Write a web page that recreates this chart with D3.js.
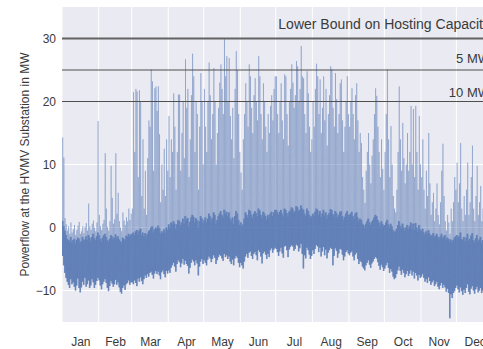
<!DOCTYPE html>
<html>
<head>
<meta charset="utf-8">
<script src="https://cdn.jsdelivr.net/npm/d3@7"></script>
<style>
  body { margin: 0; background: #ffffff; }
  svg { display: block; font-family: "Liberation Sans", Arial, sans-serif; }
</style>
</head>
<body>
<svg id="chart" width="483" height="349"></svg>
<script>
// ---- data -------------------------------------------------------------
const year = 2015;
const monthLabels = ["Jan", "Feb", "Mar", "Apr", "May", "Jun", "Jul", "Aug", "Sep", "Oct", "Nov", "Dec"];
const yTicks = [-10, 0, 10, 20, 30];
const limitValues = [30, 25, 20];
const limitLabels = ["Lower Bound on Hosting Capacity", "5 MW", "10 MW"];

// daily maximum of the substation powerflow (MW), one value per day
const peakMW = [
  // Jan
  14.3, 11.1, 1.5, 0.5, -0.5, 0.2, -1.0, 0.8, -0.8, -0.3, 0.4, -1.2, -0.4, 0.3, 0.9, -1.0, -0.6, 0.2, -0.9, 0.1, 0.7, -0.5, 3.8, 0.2, -0.4, 0.6, 1.1, 0.0, -0.6, 0.8, 16.9,
  // Feb
  2.0, 0.2, -0.4, 0.6, 1.2, 11.8, 3.0, 0.1, -0.5, 1.0, 9.8, 4.7, 0.6, 1.3, 11.8, 2.2, 5.5, 1.0, 0.0, -0.6, 2.4, 1.1, 0.4, 1.6, 1.0, 3.0, 1.2, 2.2,
  // Mar
  3.0, 21.5, 12.0, 22.0, 21.6, 8.0, 21.8, 20.0, 5.0, 14.0, 3.0, 9.0, 2.0, 11.0, 17.0, 16.0, 25.1, 23.2, 9.0, 22.1, 22.4, 18.5, 22.4, 14.8, 4.0, 10.0, 6.0, 12.5, 5.0, 14.0, 9.0,
  // Apr
  17.7, 8.0, 14.0, 12.0, 21.3, 16.0, 6.0, 12.0, 21.1, 21.1, 9.0, 15.0, 20.0, 11.0, 26.7, 19.0, 22.0, 8.0, 14.0, 21.0, 27.6, 24.0, 12.0, 20.0, 18.0, 6.0, 16.0, 24.5, 20.0, 10.0,
  // May
  22.0, 16.0, 12.0, 20.0, 26.2, 21.0, 14.0, 18.0, 25.3, 20.0, 10.0, 15.0, 19.0, 23.0, 25.9, 22.0, 18.0, 30.0, 24.0, 27.2, 20.0, 26.9, 17.7, 14.0, 19.0, 11.0, 22.0, 28.0, 25.0, 18.0, 12.0,
  // Jun
  8.7, 6.0, 14.0, 18.0, 22.9, 20.0, 16.0, 25.9, 24.0, 19.0, 15.0, 21.0, 23.7, 20.0, 17.0, 27.2, 24.0, 18.0, 14.0, 22.9, 20.0, 16.0, 12.0, 18.0, 15.0, 19.3, 21.0, 17.0, 22.0, 24.0,
  // Jul
  24.0, 18.0, 15.0, 20.0, 22.9, 17.0, 14.0, 24.3, 24.0, 18.0, 13.0, 20.0, 22.0, 25.9, 23.0, 19.0, 21.0, 26.4, 25.6, 20.0, 22.0, 28.8, 24.0, 23.7, 18.0, 15.0, 24.8, 21.3, 16.0, 12.0, 14.0,
  // Aug
  20.0, 16.0, 22.0, 26.0, 24.0, 18.0, 23.5, 15.0, 19.0, 24.0, 17.0, 22.0, 13.0, 18.0, 21.0, 25.6, 25.1, 19.0, 16.0, 24.5, 20.4, 15.0, 18.0, 22.9, 23.5, 17.0, 12.0, 16.0, 20.0, 24.0, 18.0,
  // Sep
  16.0, 20.0, 22.1, 18.0, 14.0, 21.0, 22.9, 17.0, 12.0, 15.0, 13.4, 8.0, 6.0, 3.9, 9.0, 12.0, 15.0, 10.0, 7.0, 11.4, 14.0, 18.0, 22.1, 20.9, 16.0, 12.0, 8.0, 14.0, 9.3, 6.0,
  // Oct
  12.0, 18.0, 25.1, 14.0, 8.0, 16.1, 10.0, 5.0, 3.0, 2.4, 6.0, 12.0, 22.4, 14.0, 9.0, 16.6, 11.0, 7.0, 10.0, 15.0, 9.0, 12.0, 19.3, 10.0, 18.8, 8.0, 19.3, 12.0, 6.0, 17.7, 10.0,
  // Nov
  8.0, 14.0, 6.0, 3.0, 9.0, 5.0, 15.0, 7.0, 2.0, 4.0, 5.5, 1.0, 3.0, 7.0, 2.0, 0.5, 4.0, 9.0, 13.3, 5.0, 1.0, -0.5, 2.0, 0.8, -1.0, 3.0, 1.0, 4.0, 8.0, 6.0,
  // Dec
  10.3, 4.0, 7.0, 13.4, 3.0, 1.0, 5.0, 2.0, 6.0, 10.3, 2.0, 4.0, 8.0, 13.0, 3.0, 1.0, 5.0, 9.8, 2.0, 4.0, 6.6, 1.0, 3.0, 0.0, 2.0, 1.0, 0.0, 3.0, 1.0, 0.0, 2.0
];

// typical night-time level of the powerflow (MW), one value per day
const baseMW = [
  // Jan
  1.0, 0.2, -0.5, -1.2, -1.8, -2.0, -2.2, -1.5, -2.4, -2.0, -1.8, -2.6, -2.0, -1.6, -1.8, -2.4, -2.2, -1.5, -2.1, -1.9, -1.4, -2.0, -1.2, -1.6, -2.1, -1.5, -1.0, -1.7, -2.0, -1.4, -0.8,
  // Feb
  -1.2, -1.8, -2.2, -1.6, -1.2, -1.0, -1.5, -2.0, -2.3, -1.8, -1.2, -1.4, -1.9, -1.6, -1.1, -1.7, -1.4, -1.9, -2.2, -2.4, -1.6, -1.8, -2.0, -1.3, -1.5, -1.0, -1.4, -1.1,
  // Mar
  -1.0, -0.8, -1.2, -0.6, -0.4, -1.0, -0.5, -0.2, -1.2, -0.8, -1.4, -0.9, -1.5, -1.0, -0.6, -0.4, 0.0, 0.2, -0.8, -0.3, 0.0, -0.2, 0.3, -0.1, -1.0, -0.6, -0.9, -0.3, -0.8, 0.0, -0.4,
  // Apr
  0.5, 0.0, 0.8, 0.4, 1.0, 0.6, -0.2, 0.5, 1.2, 1.0, 0.3, 0.8, 1.4, 0.6, 1.8, 1.2, 1.5, 0.2, 0.9, 1.6, 2.0, 1.7, 0.8, 1.5, 1.2, 0.0, 1.0, 1.8, 1.5, 0.7,
  // May
  1.2, 1.6, 0.8, 1.4, 2.2, 1.8, 1.0, 1.5, 2.4, 2.0, 0.6, 1.2, 1.8, 2.2, 2.6, 2.0, 1.6, 2.8, 2.2, 2.5, 1.8, 2.4, 1.4, 1.0, 1.6, 0.5, 1.8, 2.6, 2.2, 1.2, 0.4,
  // Jun
  0.8, 0.2, 0.5, 1.4, 2.4, 2.0, 1.6, 2.8, 2.6, 2.0, 1.5, 2.2, 2.6, 2.3, 1.8, 3.0, 2.7, 2.0, 1.6, 2.5, 2.2, 1.8, 1.2, 2.0, 1.6, 2.2, 2.5, 1.8, 2.4, 2.8,
  // Jul
  2.8, 2.4, 2.0, 2.5, 2.8, 2.2, 1.8, 3.0, 2.8, 2.3, 1.7, 2.5, 2.7, 3.2, 3.0, 2.4, 2.6, 3.4, 3.2, 2.6, 2.8, 3.5, 3.0, 2.8, 2.2, 1.8, 3.0, 2.6, 2.0, 1.6, 1.8,
  // Aug
  2.2, 1.8, 2.5, 3.0, 2.8, 2.0, 2.6, 1.6, 2.2, 2.8, 1.9, 2.4, 1.4, 2.0, 2.3, 2.9, 2.8, 2.1, 1.7, 2.6, 2.3, 1.6, 2.0, 2.5, 2.6, 1.8, 1.2, 1.7, 2.2, 2.6, 2.0,
  // Sep
  2.0, 2.2, 2.5, 1.8, 1.4, 2.2, 2.4, 1.6, 1.0, 1.4, 1.2, 0.6, 0.4, 0.0, 0.6, 1.0, 1.4, 0.8, 0.4, 0.9, 1.2, 1.6, 2.0, 1.8, 1.2, 0.8, 0.3, 1.0, 0.6, 0.2,
  // Oct
  0.4, 0.8, 1.2, 0.5, 0.0, 0.6, 0.2, -0.4, -0.8, -0.6, -0.2, 0.4, 1.0, 0.3, -0.2, 0.6, 0.0, -0.5, 0.0, 0.4, -0.3, 0.2, 0.8, -0.2, 0.6, -0.4, 0.7, 0.0, -0.6, 0.4, -0.3,
  // Nov
  -0.6, -0.2, -0.8, -1.2, -0.6, -1.0, -0.4, -1.0, -1.4, -1.2, -0.9, -1.6, -1.3, -1.0, -1.5, -1.8, -1.4, -1.0, -1.7, -1.4, -1.2, -2.0, -1.6, -1.8, -2.2, -1.9, -2.4, -2.0, -1.6, -1.4,
  // Dec
  -1.2, -1.6, -1.4, -0.8, -1.8, -2.0, -1.5, -2.2, -1.6, -1.0, -2.1, -1.8, -1.3, -0.9, -2.0, -2.3, -1.7, -1.2, -2.2, -1.9, -1.5, -2.4, -2.0, -2.2, -1.8, -2.0, -2.3, -1.7, -2.1, -2.4, -2.0
];

// daily minimum of the substation powerflow (MW), one value per day
const lowMW = [
  // Jan
  -4.5, -6.0, -7.2, -8.0, -8.6, -9.1, -9.6, -8.2, -9.0, -8.7, -9.4, -10.0, -9.2, -8.1, -9.6, -10.3, -9.5, -8.6, -9.1, -8.0, -9.4, -9.0, -8.4, -9.6, -9.2, -8.2, -8.7, -9.6, -9.1, -8.5, -8.0,
  // Feb
  -8.4, -9.2, -9.8, -9.0, -8.6, -8.2, -8.8, -9.6, -10.1, -9.3, -8.5, -8.9, -9.4, -9.0, -8.3, -9.1, -8.7, -9.5, -10.2, -10.5, -9.6, -9.2, -9.9, -9.0, -8.8, -8.4, -9.1, -8.7,
  // Mar
  -8.7, -9.0, -8.4, -8.8, -9.3, -8.1, -8.6, -7.9, -8.5, -9.0, -8.2, -7.6, -8.0, -7.4, -7.8, -7.2, -7.0, -7.5, -8.1, -7.3, -6.9, -7.4, -7.0, -7.6, -8.2, -7.1, -6.8, -7.4, -7.9, -6.9, -7.3,
  // Apr
  -6.8, -7.2, -6.4, -6.0, -5.6, -6.2, -7.0, -5.8, -5.2, -5.5, -6.3, -5.7, -5.0, -5.9, -5.3, -5.8, -6.1, -7.3, -6.4, -5.6, -5.1, -5.4, -6.0, -5.2, -5.7, -7.6, -6.2, -5.4, -5.0, -5.8,
  // May
  -5.2, -5.6, -6.0, -5.1, -4.6, -4.9, -5.5, -5.0, -4.4, -4.8, -5.8, -5.2, -4.7, -4.3, -4.5, -4.9, -5.3, -4.2, -4.7, -4.4, -5.0, -4.6, -5.4, -5.8, -5.1, -6.0, -4.9, -4.5, -4.8, -5.6, -6.3,
  // Jun
  -5.6, -6.0, -6.5, -5.4, -4.6, -4.2, -4.8, -4.0, -3.8, -4.5, -5.0, -4.2, -3.9, -4.4, -5.2, -3.6, -3.9, -4.6, -5.7, -4.1, -3.8, -4.3, -5.0, -4.2, -4.7, -3.6, -3.3, -4.0, -3.5, -3.2,
  // Jul
  -3.4, -3.9, -4.5, -3.8, -3.2, -4.1, -4.8, -3.0, -2.9, -3.6, -4.7, -3.5, -3.1, -2.8, -3.0, -3.7, -3.4, -2.7, -2.9, -3.8, -3.3, -2.6, -4.2, -6.5, -4.4, -4.9, -3.2, -3.6, -4.3, -5.0, -4.5,
  // Aug
  -3.6, -4.2, -3.4, -2.8, -3.0, -3.9, -3.2, -4.6, -3.8, -3.1, -4.4, -3.5, -4.9, -4.0, -3.6, -3.2, -3.4, -6.0, -4.5, -3.3, -3.7, -4.8, -4.1, -3.4, -3.5, -4.3, -5.2, -4.6, -3.9, -3.6, -4.1,
  // Sep
  -4.4, -4.0, -3.8, -4.6, -5.2, -4.3, -4.0, -5.0, -5.8, -5.3, -5.5, -6.2, -6.5, -6.8, -6.0, -5.6, -5.2, -5.9, -6.4, -5.7, -5.4, -5.0, -4.7, -4.9, -5.5, -6.1, -6.7, -5.9, -6.3, -6.9,
  // Oct
  -6.5, -6.0, -5.6, -6.4, -7.2, -6.6, -7.0, -7.8, -8.2, -8.0, -7.4, -6.8, -6.2, -6.9, -7.5, -6.7, -7.2, -7.9, -7.4, -6.9, -7.7, -7.3, -6.8, -7.6, -7.0, -8.1, -7.2, -7.6, -8.4, -7.5, -8.0,
  // Nov
  -7.8, -7.4, -8.0, -8.6, -8.2, -8.8, -7.9, -8.5, -9.1, -8.7, -8.4, -9.3, -9.0, -8.6, -9.4, -9.8, -9.2, -8.8, -9.6, -9.1, -9.5, -10.2, -9.7, -10.4, -14.4, -10.6, -11.2, -10.4, -10.1, -9.6,
  // Dec
  -9.2, -9.8, -10.3, -9.5, -10.1, -10.7, -9.9, -10.4, -9.6, -9.0, -10.2, -10.6, -9.7, -9.3, -10.0, -10.5, -9.8, -9.4, -10.3, -10.0, -9.6, -10.4, -10.0, -10.2, -9.8, -10.1, -10.4, -9.7, -10.0, -10.3, -9.9
];

// ---- layout -------------------------------------------------------------
const plot = { left: 62, right: 493, top: 7, bottom: 322 };
const labelRight = 490;
const labelLift = [10, 7, 5];
const labelSize = [14, 13, 13];

const svg = d3.select("#chart");
const yearStart = new Date(year, 0, 1);
const yearEnd = new Date(year + 1, 0, 1);
const dayMs = 864e5;

const x = d3.scaleTime().domain([yearStart, yearEnd]).range([plot.left, plot.right]);
const y = d3.scaleLinear().domain([-15, 35]).range([plot.bottom, plot.top]);

// plot background
svg.append("rect")
  .attr("x", plot.left).attr("y", plot.top)
  .attr("width", plot.right - plot.left).attr("height", plot.bottom - plot.top)
  .attr("fill", "#eaeaf2");

svg.append("clipPath").attr("id", "plot-clip")
  .append("rect")
  .attr("x", plot.left).attr("y", plot.top)
  .attr("width", plot.right - plot.left).attr("height", plot.bottom - plot.top);

// white grid: month boundaries and y ticks
const monthStarts = d3.timeMonth.range(yearStart, yearEnd);
svg.append("g").selectAll("line").data(monthStarts).join("line")
  .attr("x1", d => x(d)).attr("x2", d => x(d))
  .attr("y1", plot.top).attr("y2", plot.bottom)
  .attr("stroke", "#ffffff").attr("stroke-width", 1);
svg.append("g").selectAll("line").data(yTicks).join("line")
  .attr("x1", plot.left).attr("x2", plot.right)
  .attr("y1", d => y(d)).attr("y2", d => y(d))
  .attr("stroke", "#ffffff").attr("stroke-width", 1);

// hourly-like trace: the night hours swing between the night level and the
// daily minimum, the midday hours rise to the daily peak
const trace = [];
peakMW.forEach((peak, i) => {
  const at = f => new Date(yearStart.getTime() + (i + f) * dayMs);
  trace.push(
    [at(0.02), baseMW[i]],
    [at(0.15), lowMW[i]],
    [at(0.28), baseMW[i]],
    [at(0.40), lowMW[i]],
    [at(0.50), baseMW[i]],
    [at(0.60), peak],
    [at(0.75), lowMW[i]],
    [at(0.90), baseMW[i]]
  );
});

const line = d3.line().x(d => x(d[0])).y(d => y(d[1]));
svg.append("path")
  .datum(trace)
  .attr("clip-path", "url(#plot-clip)")
  .attr("d", line)
  .attr("fill", "none")
  .attr("stroke", "#4c72b0")
  .attr("stroke-width", 0.85)
  .attr("stroke-opacity", 0.4)
  .attr("stroke-linejoin", "round");

// hosting capacity limits
const limits = svg.append("g");
limitValues.forEach((v, i) => {
  limits.append("line")
    .attr("x1", plot.left).attr("x2", plot.right)
    .attr("y1", y(v)).attr("y2", y(v))
    .attr("stroke", i === 0 ? "#636363" : "#4f4f4f")
    .attr("stroke-width", i === 0 ? 2.2 : 1.1);
  limits.append("text")
    .attr("x", labelRight).attr("y", y(v) - labelLift[i])
    .attr("text-anchor", "end")
    .attr("font-size", labelSize[i])
    .attr("fill", "#3a3a3a")
    .text(limitLabels[i]);
});

// axes
const monthMids = monthStarts.map(d => new Date((d.getTime() + d3.timeMonth.offset(d, 1).getTime()) / 2));
const xAxis = svg.append("g")
  .attr("transform", `translate(0,${plot.bottom})`)
  .call(d3.axisBottom(x).tickValues(monthMids).tickFormat((d, i) => monthLabels[i]).tickSize(0).tickPadding(15));
xAxis.select(".domain").remove();
xAxis.selectAll("text").attr("font-size", 12).attr("fill", "#3a3a3a").attr("font-family", "Liberation Sans, Arial, sans-serif");

const yAxis = svg.append("g")
  .attr("transform", `translate(${plot.left},0)`)
  .call(d3.axisLeft(y).tickValues(yTicks).tickSize(0).tickPadding(6));
yAxis.select(".domain").remove();
yAxis.selectAll("text").attr("font-size", 12).attr("fill", "#3a3a3a").attr("font-family", "Liberation Sans, Arial, sans-serif");

svg.append("text")
  .attr("transform", `translate(29,${(plot.top + plot.bottom) / 2}) rotate(-90)`)
  .attr("text-anchor", "middle")
  .attr("font-size", 12)
  .attr("fill", "#3a3a3a")
  .text("Powerflow at the HVMV Substation in MW");
</script>
</body>
</html>
